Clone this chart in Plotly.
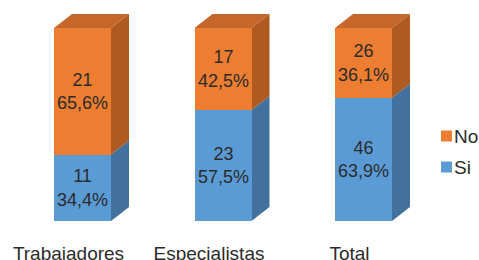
import plotly.graph_objects as go

categories = ["Trabajadores", "Especialistas", "Total"]
si_counts = [11, 23, 46]
no_counts = [21, 17, 26]
si_pct = [34.4, 57.5, 63.9]
no_pct = [65.6, 42.5, 36.1]
legend_names = ["No", "Si"]

# layout constants (pixels)
W, H = 479, 260
KX = 140.5          # px per category step
X0 = 82.5           # px of first category center
KY = 1.93           # px per percent
MT, MB = 9, 39
BAR_W_PX = 57
DEPTH_X, DEPTH_Y = 18, 14
LABEL_SHIFT_PX = -14

plot_h = H - MT - MB
xr = [-X0 / KX, (W - X0) / KX]
yr = [0, plot_h / KY]
bw = BAR_W_PX / KX
ddx = DEPTH_X / KX
ddy = DEPTH_Y / KY

BLUE, BLUE_SIDE = "#5B9BD5", "#41719C"
ORANGE, ORANGE_SIDE, ORANGE_TOP = "#ED7D31", "#AE5A21", "#C5672A"
TXT = "#2b2b2b"

def lab(n, p):
    return f"{n}<br>{p:.1f}%".replace(".", ",")

xs = list(range(len(categories)))

fig = go.Figure()
fig.add_trace(go.Bar(
    x=xs, y=si_pct, width=bw, name="Si", marker=dict(color=BLUE, line=dict(width=0)),
    text=[lab(n, p) for n, p in zip(si_counts, si_pct)], textposition="inside",
    insidetextanchor="middle", textangle=0, constraintext="none",
    textfont=dict(size=18, color=TXT), hoverinfo="skip", showlegend=False))
fig.add_trace(go.Bar(
    x=xs, y=no_pct, width=bw, name="No", marker=dict(color=ORANGE, line=dict(width=0)),
    text=[lab(n, p) for n, p in zip(no_counts, no_pct)], textposition="inside",
    insidetextanchor="middle", textangle=0, constraintext="none",
    textfont=dict(size=18, color=TXT), hoverinfo="skip", showlegend=False))

shapes = []
for i in xs:
    xl = i - bw / 2
    xrr = i + bw / 2
    segs = [(0, si_pct[i], BLUE_SIDE), (si_pct[i], si_pct[i] + no_pct[i], ORANGE_SIDE)]
    for y0, y1, col in segs:
        path = (f"M{xrr},{y0} L{xrr + ddx},{y0 + ddy} L{xrr + ddx},{y1 + ddy} "
                f"L{xrr},{y1} Z")
        shapes.append(dict(type="path", path=path, xref="x", yref="y",
                           fillcolor=col, line=dict(width=0), layer="below"))
    top = si_pct[i] + no_pct[i]
    path = (f"M{xl},{top} L{xl + ddx},{top + ddy} L{xrr + ddx},{top + ddy} "
            f"L{xrr},{top} Z")
    shapes.append(dict(type="path", path=path, xref="x", yref="y",
                       fillcolor=ORANGE_TOP, line=dict(width=0), layer="below"))

# manual legend (pixel placement converted to paper coords)
annotations = []
LEG_X = 441
LEG_SQ = 11
LEG_Y = [136, 167]
for name, col, yc in zip(legend_names, [ORANGE, BLUE], LEG_Y):
    shapes.append(dict(type="rect", xref="paper", yref="paper",
                       x0=LEG_X / W, x1=(LEG_X + LEG_SQ) / W,
                       y0=(H - MB - (yc + LEG_SQ / 2)) / plot_h,
                       y1=(H - MB - (yc - LEG_SQ / 2)) / plot_h,
                       fillcolor=col, line=dict(width=0)))
    annotations.append(dict(text=name, xref="paper", yref="paper",
                            x=(LEG_X + LEG_SQ) / W, y=(H - MB - yc) / plot_h,
                            xanchor="left", yanchor="middle", showarrow=False,
                            font=dict(size=19, color=TXT)))

fig.update_layout(
    width=W, height=H,
    margin=dict(l=0, r=0, t=MT, b=MB, pad=0, autoexpand=False),
    barmode="stack", bargap=0,
    paper_bgcolor="white", plot_bgcolor="white",
    font=dict(family="Liberation Sans, Arial, sans-serif", size=18, color=TXT),
    shapes=shapes, annotations=annotations,
    showlegend=False,
    xaxis=dict(range=xr, tickvals=[i + LABEL_SHIFT_PX / KX for i in xs],
               ticktext=categories, showgrid=False, zeroline=False, showline=False,
               ticks="outside", ticklen=15, tickcolor="rgba(0,0,0,0)",
               tickfont=dict(size=19, color=TXT), fixedrange=True, automargin=False),
    yaxis=dict(range=yr, visible=False, showgrid=False, zeroline=False, fixedrange=True,
               automargin=False),
)

fig.write_html("out.html", config={"displayModeBar": False},
               post_script="document.body.style.margin='0';document.body.style.overflow='hidden';")
